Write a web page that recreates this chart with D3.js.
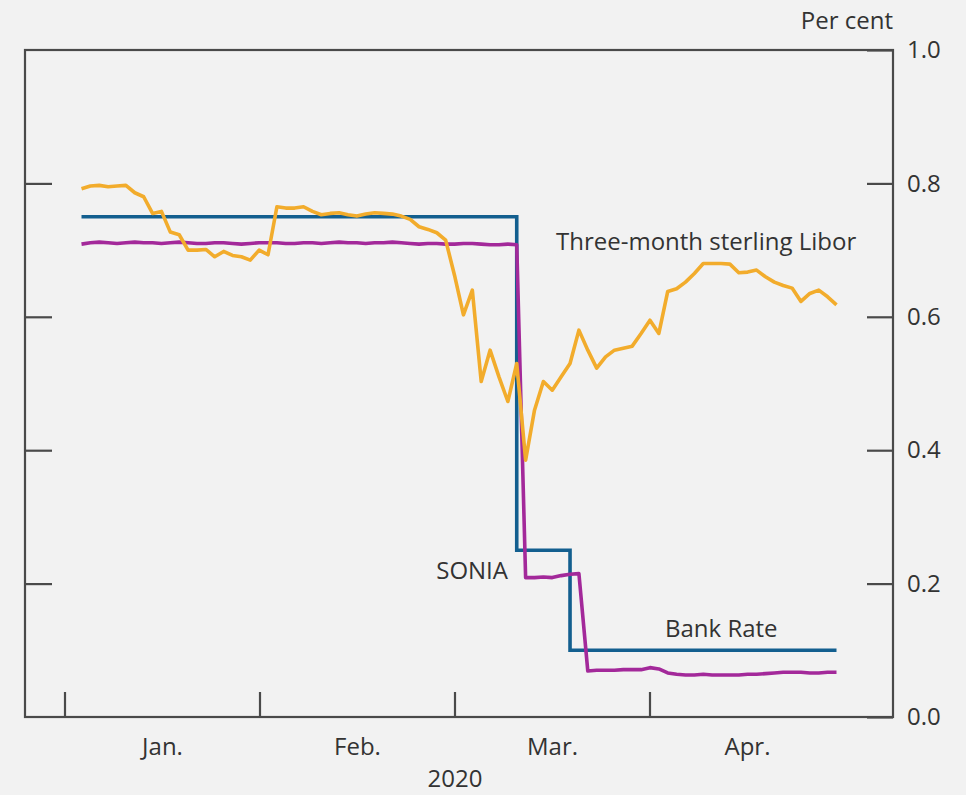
<!DOCTYPE html>
<html>
<head>
<meta charset="utf-8">
<script src="https://cdn.jsdelivr.net/npm/d3@7"></script>
<style>
  body { margin: 0; background: #f2f2f2; }
  text { font-family: "Open Sans", sans-serif; fill: #333; }
</style>
</head>
<body>
<div id="chart"></div>
<script>
// Business days (weekdays) plotted, by month
const janDays = [2,3,6,7,8,9,10,13,14,15,16,17,20,21,22,23,24,27,28,29,30,31];
const febDays = [3,4,5,6,7,10,11,12,13,14,17,18,19,20,21,24,25,26,27,28];
const marDays = [2,3,4,5,6,9,10,11,12,13,16,17,18,19,20,23,24,25,26,27,30,31];
const aprDays = [1,2,3,6,7,8,9,10,13,14,15,16,17,20,21,22,23,24,27,28,29,30];

const months = ["Jan.", "Feb.", "Mar.", "Apr."];
const yTicks = [0, 0.2, 0.4, 0.6, 0.8, 1.0];

// Per cent
const bankRate = [
  0.75,0.75,0.75,0.75,0.75,0.75,0.75,0.75,0.75,0.75,0.75,0.75,0.75,0.75,0.75,0.75,0.75,0.75,0.75,0.75,0.75,0.75,
  0.75,0.75,0.75,0.75,0.75,0.75,0.75,0.75,0.75,0.75,0.75,0.75,0.75,0.75,0.75,0.75,0.75,0.75,0.75,0.75,
  0.75,0.75,0.75,0.75,0.75,0.75,0.75,0.25,0.25,0.25,0.25,0.25,0.25,0.1,0.1,0.1,0.1,0.1,0.1,0.1,0.1,0.1,
  0.1,0.1,0.1,0.1,0.1,0.1,0.1,0.1,0.1,0.1,0.1,0.1,0.1,0.1,0.1,0.1,0.1,0.1,0.1,0.1,0.1,0.1
];
const sonia = [
  0.709,0.711,0.712,0.711,0.710,0.711,0.712,0.711,0.711,0.710,0.711,0.712,0.711,0.710,0.710,0.711,0.711,0.710,0.709,0.710,0.711,0.711,
  0.711,0.710,0.710,0.711,0.711,0.710,0.711,0.712,0.711,0.711,0.710,0.711,0.711,0.712,0.711,0.710,0.709,0.710,0.710,0.709,
  0.709,0.710,0.710,0.709,0.708,0.708,0.709,0.708,0.209,0.209,0.210,0.209,0.212,0.214,0.215,0.069,0.070,0.070,0.070,0.071,0.071,0.071,
  0.074,0.072,0.066,0.064,0.063,0.063,0.064,0.063,0.063,0.063,0.063,0.064,0.064,0.065,0.066,0.067,0.067,0.067,0.066,0.066,0.067,0.067
];
const libor = [
  0.792,0.796,0.797,0.795,0.796,0.797,0.786,0.780,0.755,0.758,0.727,0.723,0.700,0.700,0.701,0.690,0.698,0.692,0.690,0.685,0.700,0.693,
  0.765,0.763,0.763,0.765,0.758,0.753,0.755,0.756,0.753,0.751,0.754,0.756,0.755,0.754,0.751,0.746,0.735,0.731,0.726,0.715,
  0.662,0.603,0.640,0.503,0.550,0.510,0.473,0.530,0.385,0.460,0.503,0.490,0.510,0.530,0.580,0.550,0.523,0.540,0.550,0.553,0.556,0.575,
  0.595,0.575,0.638,0.642,0.652,0.665,0.680,0.680,0.680,0.679,0.666,0.667,0.670,0.660,0.652,0.647,0.643,0.623,0.635,0.640,0.630,0.618
];

const pad = d => String(d).padStart(2, "0");
const dates = [].concat(
  janDays.map(d => "2020-01-" + pad(d)),
  febDays.map(d => "2020-02-" + pad(d)),
  marDays.map(d => "2020-03-" + pad(d)),
  aprDays.map(d => "2020-04-" + pad(d))
);

const w = 966, h = 795;
const plotL = 25, plotR = 893, plotT = 50, plotB = 717;
const fs = "24px";

const svg = d3.select("#chart").append("svg")
    .attr("width", w).attr("height", h);

svg.append("rect").attr("width", w).attr("height", h).attr("fill", "#f2f2f2");

const x = d3.scalePoint().domain(dates).range([81.5, 836.5]);
const y = d3.scaleLinear().domain([0, 1]).range([plotB, plotT]);

// month bands for labels and boundary ticks
const monthBand = d3.scaleBand().domain(months).range([65, 845]);

// frame
svg.append("rect")
    .attr("x", plotL).attr("y", plotT)
    .attr("width", plotR - plotL).attr("height", plotB - plotT)
    .attr("fill", "none").attr("stroke", "#4a4a4a").attr("stroke-width", 2.2);

// left ticks (inward)
const gl = svg.append("g").attr("transform", `translate(${plotL},0)`)
    .call(d3.axisLeft(y).tickValues([0.2, 0.4, 0.6, 0.8]).tickSize(-27).tickFormat(""));
gl.select(".domain").remove();

// right axis
const gr = svg.append("g").attr("transform", `translate(${plotR},0)`)
    .call(d3.axisRight(y).tickValues(yTicks).tickSize(-26).tickPadding(14).tickFormat(d3.format(".1f")));
gr.select(".domain").remove();
gr.selectAll("text").style("font-size", fs).attr("fill", "#333")
    .style("font-family", "'Open Sans', sans-serif");

// bottom boundary ticks
const gb = svg.append("g").attr("transform", `translate(0,${plotB})`);
gb.selectAll("line.mtick")
    .data(months)
    .enter().append("line")
    .attr("class", "mtick")
    .attr("x1", d => monthBand(d)).attr("x2", d => monthBand(d))
    .attr("y1", 0).attr("y2", -25);
gb.selectAll("text.mlabel")
    .data(months)
    .enter().append("text")
    .attr("class", "mlabel")
    .attr("x", d => monthBand(d) + monthBand.bandwidth() / 2)
    .attr("y", 38)
    .attr("text-anchor", "middle")
    .style("font-size", fs)
    .text(d => d);

svg.selectAll(".tick line, line.mtick").attr("stroke", "#4a4a4a").attr("stroke-width", 2.2);

svg.append("text")
    .attr("x", monthBand("Mar."))
    .attr("y", 787)
    .attr("text-anchor", "middle")
    .style("font-size", fs)
    .text("2020");

svg.append("text")
    .attr("x", plotR).attr("y", 29)
    .attr("text-anchor", "end")
    .style("font-size", fs)
    .text("Per cent");

// lines
const stepLine = d3.line().x((d, i) => x(dates[i])).y(d => y(d)).curve(d3.curveStepAfter);
const line = d3.line().x((d, i) => x(dates[i])).y(d => y(d));

svg.append("path").datum(bankRate)
    .attr("d", stepLine)
    .attr("fill", "none").attr("stroke", "#135f8f").attr("stroke-width", 3.6);

svg.append("path").datum(sonia)
    .attr("d", line)
    .attr("fill", "none").attr("stroke", "#a3299a").attr("stroke-width", 3.6)
    .attr("stroke-linejoin", "round");

svg.append("path").datum(libor)
    .attr("d", line)
    .attr("fill", "none").attr("stroke", "#f2ac2c").attr("stroke-width", 3.6)
    .attr("stroke-linejoin", "round");

// series labels
svg.append("text").attr("x", 556).attr("y", 250).style("font-size", fs)
    .text("Three-month sterling Libor");
svg.append("text").attr("x", 508).attr("y", 579).attr("text-anchor", "end").style("font-size", fs)
    .text("SONIA");
svg.append("text").attr("x", 665).attr("y", 637).style("font-size", fs)
    .text("Bank Rate");
</script>
</body>
</html>
